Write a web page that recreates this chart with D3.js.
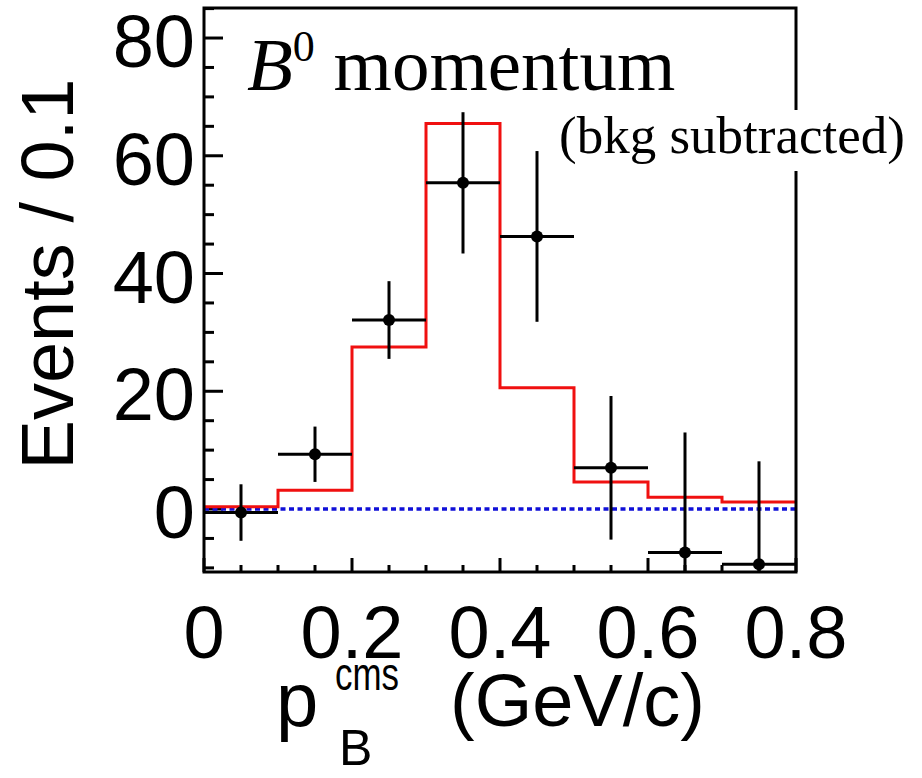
<!DOCTYPE html>
<html lang="en">
<head>
  <meta charset="UTF-8">
  <title>B0 momentum (bkg subtracted)</title>
  <script src="https://d3js.org/d3.v7.min.js"></script>
  <style>
    body { margin: 0; background: #fff; }
    .tick-label { font-family: "Liberation Sans", Arial, sans-serif; font-size: 74px; fill: #000; }
    .axis-title { font-family: "Liberation Sans", Arial, sans-serif; fill: #000; }
    .note { font-family: "Liberation Serif", "Times New Roman", serif; fill: #000; }
  </style>
</head>
<body>
  <div id="chart"></div>
  <script>
    // bin centres of p_B^cms (GeV/c), bin width 0.1
    const binCenters = [0.05, 0.15, 0.25, 0.35, 0.45, 0.55, 0.65, 0.75];
    // background-subtracted data points and their errors
    const dataValues = [-0.6, 9.3, 32.1, 55.4, 46.3, 7.0, -7.4, -9.4];
    const dataErrors = [4.8, 4.7, 6.6, 12.0, 14.5, 12.2, 20.4, 17.5];
    // expected signal histogram (red)
    const histValues = [0.4, 3.2, 27.5, 65.5, 20.6, 4.6, 2.0, 1.2];
    const binWidth = 0.1;

    const xTicks = [0, 0.2, 0.4, 0.6, 0.8];
    const yTicks = [0, 20, 40, 60, 80];

    const width = 922, height = 778;
    const margin = {left: 204, top: 8, right: 126, bottom: 206};
    const innerW = width - margin.left - margin.right;
    const innerH = height - margin.top - margin.bottom;

    const svg = d3.select("#chart")
                  .append("svg")
                  .attr("width", width)
                  .attr("height", height);

    const x = d3.scaleLinear().domain([0, 0.8]).range([0, innerW]);
    const y = d3.scaleLinear().domain([-10.7, 85.1]).range([innerH, 0]);

    const g = svg.append("g")
                 .attr("transform", `translate(${margin.left},${margin.top})`);

    g.append("clipPath").attr("id", "plot-clip")
     .append("rect").attr("width", innerW).attr("height", innerH);

    // minor + major ticks on the left and bottom, pointing inwards
    const yMinor = d3.range(-10, 85.1, 5);
    g.selectAll(".ytick").data(yMinor).enter()
     .append("line")
     .attr("x1", 0)
     .attr("x2", d => d % 20 === 0 ? 19 : 10)
     .attr("y1", d => y(d)).attr("y2", d => y(d))
     .attr("stroke", "#000").attr("stroke-width", 3);

    const xMinor = d3.range(0, 0.801, 0.05);
    g.selectAll(".xtick").data(xMinor).enter()
     .append("line")
     .attr("x1", d => x(d)).attr("x2", d => x(d))
     .attr("y1", innerH)
     .attr("y2", (d, i) => innerH - (i % 4 === 0 ? 14 : 7))
     .attr("stroke", "#000").attr("stroke-width", 3);

    const plot = g.append("g").attr("clip-path", "url(#plot-clip)");

    // zero line
    plot.append("line")
        .attr("x1", 0).attr("x2", innerW)
        .attr("y1", y(0)).attr("y2", y(0))
        .attr("stroke", "#1010d8")
        .attr("stroke-width", 3.5)
        .attr("stroke-dasharray", "5,3.5");

    // red step histogram
    const stepPts = [];
    binCenters.forEach((c, i) => {
      stepPts.push([c - binWidth / 2, histValues[i]]);
      stepPts.push([c + binWidth / 2, histValues[i]]);
    });
    const line = d3.line().x(d => x(d[0])).y(d => y(d[1]));
    plot.append("path")
        .attr("d", line(stepPts))
        .attr("fill", "none")
        .attr("stroke", "#f01010")
        .attr("stroke-width", 3);

    // data points with error bars
    const pts = binCenters.map((c, i) => ({c, v: dataValues[i], e: dataErrors[i]}));
    const pg = plot.selectAll(".pt").data(pts).enter().append("g");
    pg.append("line")
      .attr("x1", d => x(d.c - binWidth / 2)).attr("x2", d => x(d.c + binWidth / 2))
      .attr("y1", d => y(d.v)).attr("y2", d => y(d.v))
      .attr("stroke", "#000").attr("stroke-width", 3);
    pg.append("line")
      .attr("x1", d => x(d.c)).attr("x2", d => x(d.c))
      .attr("y1", d => y(d.v - d.e)).attr("y2", d => y(d.v + d.e))
      .attr("stroke", "#000").attr("stroke-width", 3);
    pg.append("circle")
      .attr("cx", d => x(d.c)).attr("cy", d => y(d.v))
      .attr("r", 6).attr("fill", "#000");

    // frame
    g.append("rect")
     .attr("width", innerW).attr("height", innerH)
     .attr("fill", "none").attr("stroke", "#000").attr("stroke-width", 3);

    // tick labels
    g.selectAll(".xl").data(xTicks).enter()
     .append("text").attr("class", "tick-label")
     .attr("x", d => x(d)).attr("y", 650)
     .attr("text-anchor", "middle")
     .text(d => d === 0 ? "0" : d3.format(".1f")(d));

    g.selectAll(".yl").data(yTicks).enter()
     .append("text").attr("class", "tick-label")
     .attr("x", -9).attr("y", d => y(d) + 29)
     .attr("text-anchor", "end")
     .text(d => d);

    // y axis title
    svg.append("text").attr("class", "axis-title")
       .attr("transform", "translate(73,274) rotate(-90)")
       .attr("text-anchor", "middle")
       .style("font-size", "74px")
       .text("Events / 0.1");

    // x axis title: p_B^cms (GeV/c)
    const xt = svg.append("g").attr("class", "axis-title");
    xt.append("text").attr("x", 276).attr("y", 726).style("font-size", "76px").text("p");
    xt.append("text").attr("x", 335).attr("y", 690).style("font-size", "46px")
      .attr("textLength", 64).attr("lengthAdjust", "spacingAndGlyphs").text("cms");
    xt.append("text").attr("x", 339).attr("y", 765).style("font-size", "50px").text("B");
    xt.append("text").attr("x", 450).attr("y", 726).style("font-size", "74px").text("(GeV/c)");

    // in-plot labels
    const title = svg.append("text").attr("class", "note")
                     .attr("x", 247).attr("y", 90).style("font-size", "75px");
    title.append("tspan").style("font-style", "italic").text("B");
    title.append("tspan").attr("dy", -29).style("font-size", "44px").text("0");
    title.append("tspan").attr("dy", 29).text(" momentum");

    const sub = svg.append("g");
    const subText = sub.append("text").attr("class", "note")
                       .attr("x", 559).attr("y", 153)
                       .style("font-size", "53px")
                       .text("(bkg subtracted)");
    const bb = subText.node().getBBox();
    sub.insert("rect", "text")
       .attr("x", bb.x - 6).attr("y", bb.y + 4)
       .attr("width", bb.width + 12).attr("height", bb.height + 2)
       .attr("fill", "#fff");
  </script>
</body>
</html>
